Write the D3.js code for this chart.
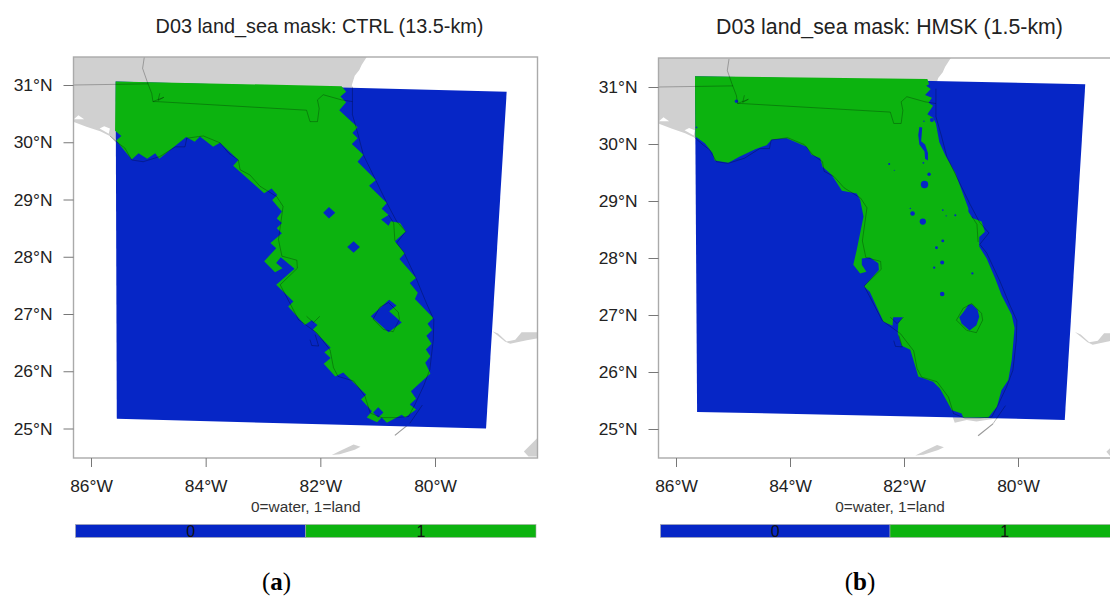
<!DOCTYPE html>
<html>
<head>
<meta charset="utf-8">
<title>D03 land_sea mask</title>
<style>
    html, body { margin: 0; padding: 0; background: #fff; overflow: hidden; }
    text { font-family: "Liberation Sans", Arial, sans-serif; }
</style>
</head>
<body>
<svg id="chart" width="1110" height="597"></svg>
<script src="https://d3js.org/d3.v7.min.js"></script>
<script>
// axis ticks and colorbar categories
const lonTicks = [-86, -84, -82, -80];
const latTicks = [25, 26, 27, 28, 29, 30, 31];
const maskCategories = ["0", "1"];
const maskNote = "0=water, 1=land";

// model domain corners [lon, lat]
const ctrlDomain = [[-85.57, 31.06], [-78.75, 30.88], [-79.11, 25.0], [-85.55, 25.17]];
const hmskDomain = [[-85.667, 31.19], [-78.82, 31.05], [-79.18, 25.16], [-85.63, 25.30]];

// CTRL land cells, outline of the 13.5-km mask
const ctrlLand = [[-85.57, 31.06], [-81.63, 30.98], [-81.55, 30.88], [-81.65, 30.80], [-81.55, 30.70], [-81.67, 30.56],
    [-81.35, 30.26], [-81.44, 30.16], [-81.35, 30.07], [-81.45, 29.97], [-81.25, 29.78], [-81.35, 29.66], [-81.03, 29.34],
    [-81.15, 29.24], [-80.84, 28.94], [-80.93, 28.84], [-80.81, 28.73], [-80.94, 28.65], [-80.81, 28.54], [-80.77, 28.62],
    [-80.61, 28.59], [-80.51, 28.44], [-80.70, 28.27], [-80.53, 28.06], [-80.62, 27.96], [-80.33, 27.63], [-80.44, 27.54],
    [-80.30, 27.37], [-80.35, 27.26], [-80.03, 26.93], [-80.13, 26.83], [-80.05, 26.72], [-80.15, 26.62], [-80.06, 26.48],
    [-80.16, 26.38], [-80.08, 26.26], [-80.17, 26.15], [-80.08, 25.96], [-80.42, 25.65], [-80.33, 25.52], [-80.44, 25.42],
    [-80.33, 25.33], [-80.52, 25.19], [-80.58, 25.24], [-80.84, 25.10], [-80.93, 25.19], [-81.01, 25.11], [-81.19, 25.19],
    [-81.10, 25.30], [-81.29, 25.51], [-81.20, 25.59], [-81.60, 25.98], [-81.74, 25.91], [-81.94, 26.13], [-81.82, 26.23],
    [-81.93, 26.33], [-81.82, 26.41], [-82.13, 26.73], [-82.05, 26.81], [-82.15, 26.89], [-82.27, 26.81], [-82.56, 27.13],
    [-82.47, 27.22], [-82.77, 27.51], [-82.45, 27.79], [-82.69, 27.99], [-82.77, 27.89], [-82.66, 27.80], [-82.79, 27.73],
    [-82.98, 27.92], [-82.77, 28.15], [-82.87, 28.24], [-82.67, 28.41], [-82.76, 28.50], [-82.67, 28.59], [-82.76, 28.67],
    [-82.67, 28.79], [-82.75, 28.88], [-82.84, 28.99], [-82.75, 29.08], [-82.85, 29.19], [-82.98, 29.11], [-83.52, 29.59],
    [-83.43, 29.69], [-83.75, 29.99], [-83.87, 29.92], [-84.10, 30.10], [-84.19, 30.01], [-84.34, 30.09], [-84.81, 29.71],
    [-84.88, 29.81], [-85.02, 29.71], [-85.17, 29.81], [-85.29, 29.70], [-85.56, 30.03], [-85.47, 30.11], [-85.58, 30.20]];

// CTRL water cells inside the land
const ctrlLakes = [
    [[-81.95, 28.77], [-81.85, 28.87], [-81.74, 28.77], [-81.85, 28.67]],
    [[-81.53, 28.17], [-81.42, 28.27], [-81.31, 28.17], [-81.42, 28.07]],
    [[-81.12, 26.96], [-80.80, 27.25], [-80.67, 27.15], [-80.80, 27.05], [-80.58, 26.85], [-80.81, 26.68]],
    [[-81.08, 25.28], [-80.99, 25.37], [-80.90, 25.28], [-80.99, 25.19]]];

// HMSK land, outline of the 1.5-km mask
const hmskLand = [[-85.667, 31.19], [-81.59, 31.14], [-81.56, 31.05], [-81.61, 31.02], [-81.53, 30.965], [-81.63, 30.86],
    [-81.51, 30.81], [-81.57, 30.725], [-81.49, 30.67], [-81.59, 30.52], [-81.49, 30.46], [-81.44, 30.36], [-81.38, 30.03],
    [-81.28, 29.81], [-81.10, 29.49], [-80.87, 28.87], [-80.87, 28.81], [-80.80, 28.70], [-80.64, 28.64], [-80.58, 28.46],
    [-80.68, 28.37], [-80.68, 28.20], [-80.55, 27.99], [-80.40, 27.64], [-80.29, 27.35], [-80.11, 27.00], [-80.06, 26.77],
    [-80.11, 26.21], [-80.17, 25.86], [-80.29, 25.68], [-80.37, 25.39], [-80.52, 25.20], [-80.96, 25.20], [-80.99, 25.27],
    [-81.16, 25.33], [-81.37, 25.71], [-81.49, 25.83], [-81.75, 25.92], [-81.79, 26.06], [-81.89, 26.39], [-82.04, 26.46],
    [-82.11, 26.68], [-82.10, 26.85], [-82.02, 26.96], [-82.19, 26.96], [-82.20, 26.81], [-82.36, 26.88], [-82.60, 27.41],
    [-82.70, 27.50], [-82.44, 27.79], [-82.45, 27.91], [-82.60, 28.01], [-82.74, 27.99], [-82.74, 27.88], [-82.66, 27.76],
    [-82.77, 27.73], [-82.89, 27.88], [-82.83, 28.14], [-82.71, 28.73], [-82.77, 29.02], [-82.83, 29.13], [-83.09, 29.18],
    [-83.27, 29.46], [-83.43, 29.60], [-83.47, 29.75], [-83.62, 29.81], [-83.71, 29.95], [-84.06, 30.10], [-84.32, 30.08],
    [-84.41, 29.98], [-84.61, 29.91], [-84.88, 29.78], [-85.08, 29.67], [-85.32, 29.71], [-85.36, 29.84], [-85.49, 30.01],
    [-85.64, 30.12], [-85.66, 30.12]];

// HMSK lakes that are large enough to trace
const hmskLakes = [
    [[-80.81, 27.19], [-80.71, 27.09], [-80.68, 26.97], [-80.73, 26.82], [-80.85, 26.73], [-80.99, 26.85], [-81.03, 26.96], [-80.95, 27.06], [-80.87, 27.18]],
    [[-81.73, 30.30], [-81.68, 30.29], [-81.69, 30.16], [-81.70, 30.05], [-81.63, 29.99], [-81.58, 29.84], [-81.58, 29.71], [-81.63, 29.74], [-81.64, 29.87], [-81.73, 29.99], [-81.75, 30.16]]];

// HMSK small ponds: lon, lat, radius in degrees
const hmskPonds = [[-81.51, 30.42, 0.035], [-81.65, 30.40, 0.012], [-81.66, 29.67, 0.015], [-81.56, 29.47, 0.03], [-81.64, 29.29, 0.065],
    [-81.85, 28.78, 0.04], [-81.67, 28.64, 0.055], [-81.89, 28.87, 0.012], [-81.32, 28.84, 0.015], [-81.10, 28.75, 0.018], [-81.26, 28.74, 0.012],
    [-81.32, 28.30, 0.025], [-81.43, 28.18, 0.025], [-81.33, 27.92, 0.035], [-81.47, 27.83, 0.02], [-80.80, 27.73, 0.02], [-81.33, 27.37, 0.04],
    [-82.26, 29.65, 0.018], [-82.17, 29.54, 0.01], [-84.94, 30.75, 0.03], [-85.64, 30.29, 0.015]];

// gray land from the map background
const grayLand = [[-86.5, 31.6], [-81.1, 31.6], [-81.19, 31.49], [-81.28, 31.35], [-81.32, 31.26], [-81.40, 31.16], [-81.45, 31.0],
    [-81.44, 30.48], [-81.34, 30.13], [-81.25, 29.78], [-81.05, 29.37], [-80.84, 28.94], [-80.51, 28.44], [-80.55, 28.09],
    [-80.32, 27.60], [-80.02, 26.90], [-80.03, 26.55], [-80.09, 26.03], [-80.20, 25.74], [-80.35, 25.19], [-80.73, 25.13],
    [-80.90, 25.16], [-81.11, 25.11], [-81.16, 25.25], [-81.42, 25.83], [-82.0, 26.5], [-82.7, 27.5], [-82.8, 28.2], [-82.7, 28.9],
    [-83.4, 29.5], [-84.3, 30.1], [-85.0, 29.7], [-85.3, 29.7], [-85.67, 30.11], [-85.84, 30.19], [-86.08, 30.27], [-86.31, 30.36], [-86.5, 30.42]];
const whiteBays = [
    [[-86.30, 30.40], [-86.22, 30.47], [-86.12, 30.40], [-86.20, 30.40]],
    [[-85.85, 30.24], [-85.77, 30.28], [-85.67, 30.24], [-85.69, 30.15], [-85.78, 30.20]]];
const grayIslands = [
    [[-81.80, 24.535], [-81.66, 24.605], [-81.42, 24.72], [-81.30, 24.68], [-81.40, 24.63], [-81.66, 24.55]],
    [[-79.00, 26.70], [-78.90, 26.66], [-78.75, 26.52], [-78.60, 26.55], [-78.49, 26.68], [-78.0, 26.68], [-78.0, 26.61], [-78.40, 26.54], [-78.69, 26.48], [-78.78, 26.52]],
    [[-78.0, 24.90], [-78.21, 24.84], [-78.45, 24.60], [-78.37, 24.51], [-78.0, 24.51]]];
const grayKeys = [[-80.44, 25.09], [-80.70, 24.88]];

// coast and state lines
const coastLine = [[-81.44, 30.97], [-81.44, 30.48], [-81.34, 30.13], [-81.25, 29.78], [-81.05, 29.37], [-80.84, 28.94], [-80.67, 28.62],
    [-80.51, 28.44], [-80.67, 28.24], [-80.55, 28.09], [-80.32, 27.60], [-80.15, 27.19], [-80.02, 26.90], [-80.03, 26.55], [-80.09, 26.03],
    [-80.20, 25.74], [-80.35, 25.42], [-80.46, 25.21], [-80.67, 25.19], [-80.93, 25.19], [-81.13, 25.27], [-81.22, 25.56], [-81.42, 25.83],
    [-81.69, 25.91], [-81.77, 26.06], [-81.83, 26.37], [-82.06, 26.67], [-82.38, 26.90], [-82.70, 27.51], [-82.40, 27.80], [-82.41, 27.94],
    [-82.67, 28.01], [-82.73, 28.30], [-82.65, 28.88], [-82.76, 29.05], [-83.05, 29.23], [-83.23, 29.43], [-83.40, 29.52], [-83.43, 29.69],
    [-83.60, 29.81], [-83.75, 29.99], [-84.04, 30.11], [-84.19, 30.09], [-84.33, 30.07], [-84.36, 29.92], [-84.53, 29.92], [-84.80, 29.75],
    [-85.09, 29.66], [-85.29, 29.69], [-85.41, 29.90], [-85.52, 29.98], [-85.67, 30.11]];
const stateLines = [
    [[-86.31, 31.0], [-85.0, 31.02]],
    [[-85.07, 31.49], [-85.10, 31.29], [-85.02, 31.06], [-84.94, 30.85], [-84.92, 30.71], [-84.85, 30.71], [-82.24, 30.56], [-82.18, 30.36],
        [-82.05, 30.36], [-82.02, 30.59], [-82.05, 30.74], [-81.95, 30.83], [-81.63, 30.74], [-81.44, 30.71]],
    [[-84.92, 30.71], [-84.73, 30.785], [-84.83, 30.73], [-84.80, 30.855]],
    [[-80.81, 28.73], [-80.72, 28.59], [-80.70, 28.28]],
    [[-82.18, 26.55], [-82.15, 26.45], [-82.03, 26.44], [-82.09, 26.64]],
    [[-82.24, 26.96], [-82.12, 26.85], [-82.01, 26.96]],
    [[-80.81, 27.20], [-80.64, 27.03], [-80.62, 26.91], [-80.73, 26.69], [-80.90, 26.73], [-81.08, 26.91], [-80.96, 27.12], [-80.81, 27.20]],
    [[-80.22, 25.41], [-80.44, 25.09]]];

const panels = [
    { id: "a", title: "D03 land_sea mask: CTRL (13.5-km)", titleX: 319.5, titleY: 32.5, titleSize: 19.85, tag: "a", tagX: 276.5,
      frame: [73.5, 57, 537.5, 458], lonRange: [91, 435], latRange: [428.5, 85],
      bar: [75.5, 536], domain: ctrlDomain, land: ctrlLand, lakes: ctrlLakes, ponds: [] },
    { id: "b", title: "D03 land_sea mask: HMSK (1.5-km)", titleX: 889.5, titleY: 34, titleSize: 21.3, tag: "b", tagX: 860,
      frame: [658.5, 58, 1114, 458], lonRange: [676, 1018], latRange: [429, 87],
      bar: [660.5, 1119.5], domain: hmskDomain, land: hmskLand, lakes: hmskLakes, ponds: hmskPonds }
];

const blue = "#0626c6", green = "#0cb30f", gray = "#d0d0d0";
const svg = d3.select("#chart");

function drawPanel(p) {
    const x = d3.scaleLinear().domain([lonTicks[0], lonTicks[3]]).range(p.lonRange);
    const y = d3.scaleLinear().domain([latTicks[0], latTicks[6]]).range(p.latRange);
    const poly = d3.line().x(d => x(d[0])).y(d => y(d[1])).curve(d3.curveLinearClosed);
    const line = d3.line().x(d => x(d[0])).y(d => y(d[1]));
    const [x0, y0, x1, y1] = p.frame;

    svg.append("clipPath").attr("id", "clip-" + p.id)
        .append("rect").attr("x", x0).attr("y", y0).attr("width", x1 - x0).attr("height", y1 - y0);

    const map = svg.append("g").attr("clip-path", `url(#clip-${p.id})`);
    map.append("path").attr("d", poly(grayLand)).attr("fill", gray);
    map.selectAll(".bay").data(whiteBays).join("path").attr("class", "bay").attr("d", poly).attr("fill", "#fff");
    map.selectAll(".island").data(grayIslands).join("path").attr("class", "island").attr("d", poly).attr("fill", gray);
    map.append("path").attr("d", line(grayKeys)).attr("fill", "none").attr("stroke", "#999").attr("stroke-width", 1.2);
    map.append("path").attr("d", poly(p.domain)).attr("fill", blue);
    map.append("path").attr("d", poly(p.land)).attr("fill", green);
    map.selectAll(".lake").data(p.lakes).join("path").attr("class", "lake").attr("d", poly).attr("fill", blue);
    map.selectAll(".pond").data(p.ponds).join("circle").attr("class", "pond")
        .attr("cx", d => x(d[0])).attr("cy", d => y(d[1]))
        .attr("r", d => x(d[0] + d[2]) - x(d[0])).attr("fill", blue);
    map.append("path").attr("d", line(coastLine)).attr("fill", "none")
        .attr("stroke", "#000").attr("stroke-opacity", 0.45).attr("stroke-width", 0.6);
    map.selectAll(".state").data(stateLines).join("path").attr("class", "state").attr("d", line)
        .attr("fill", "none").attr("stroke", "#000").attr("stroke-opacity", 0.45).attr("stroke-width", 0.6);

    svg.append("rect").attr("x", x0).attr("y", y0).attr("width", x1 - x0).attr("height", y1 - y0)
        .attr("fill", "none").attr("stroke", "#aaa").attr("stroke-width", 1.4);

    const xAxis = d3.axisBottom(x).tickValues(lonTicks).tickSize(9).tickPadding(13).tickFormat(d => `${-d}°W`);
    const yAxis = d3.axisLeft(y).tickValues(latTicks).tickSize(10).tickPadding(11).tickFormat(d => `${d}°N`);
    for (const g of [
        svg.append("g").attr("transform", `translate(0,${y1})`).call(xAxis),
        svg.append("g").attr("transform", `translate(${x0},0)`).call(yAxis)]) {
        g.select(".domain").remove();
        g.selectAll("line").attr("stroke", "#777");
        g.selectAll("text").attr("font-size", 17.4).attr("fill", "#222")
            .attr("font-family", '"Liberation Sans", Arial, sans-serif');
    }

    svg.append("text").attr("x", p.titleX).attr("y", p.titleY).attr("text-anchor", "middle")
        .attr("font-size", p.titleSize).attr("fill", "#222").text(p.title);
    svg.append("text").attr("x", (p.bar[0] + p.bar[1]) / 2).attr("y", 511.5).attr("text-anchor", "middle")
        .attr("font-size", 15.4).attr("fill", "#333").text(maskNote);

    // colorbar
    const band = d3.scaleBand().domain(maskCategories).range(p.bar);
    const bar = svg.append("g");
    bar.selectAll("rect").data(maskCategories).join("rect")
        .attr("x", d => band(d)).attr("y", 524.5).attr("width", band.bandwidth()).attr("height", 13)
        .attr("fill", d => d === "0" ? blue : green).attr("stroke", "#aaa").attr("stroke-width", 0.6);
    bar.selectAll("text").data(maskCategories).join("text")
        .attr("x", d => band(d) + band.bandwidth() / 2).attr("y", 537).attr("text-anchor", "middle")
        .attr("font-size", 16).attr("fill", "#111").text(d => d);

    // panel letter
    const tag = svg.append("text").attr("x", p.tagX).attr("y", 590).attr("text-anchor", "middle")
        .attr("font-size", 25).attr("fill", "#000").style("font-family", '"Liberation Serif", serif');
    tag.append("tspan").text("(");
    tag.append("tspan").attr("font-weight", "bold").text(p.tag);
    tag.append("tspan").text(")");
}

panels.forEach(drawPanel);
</script>
</body>
</html>
